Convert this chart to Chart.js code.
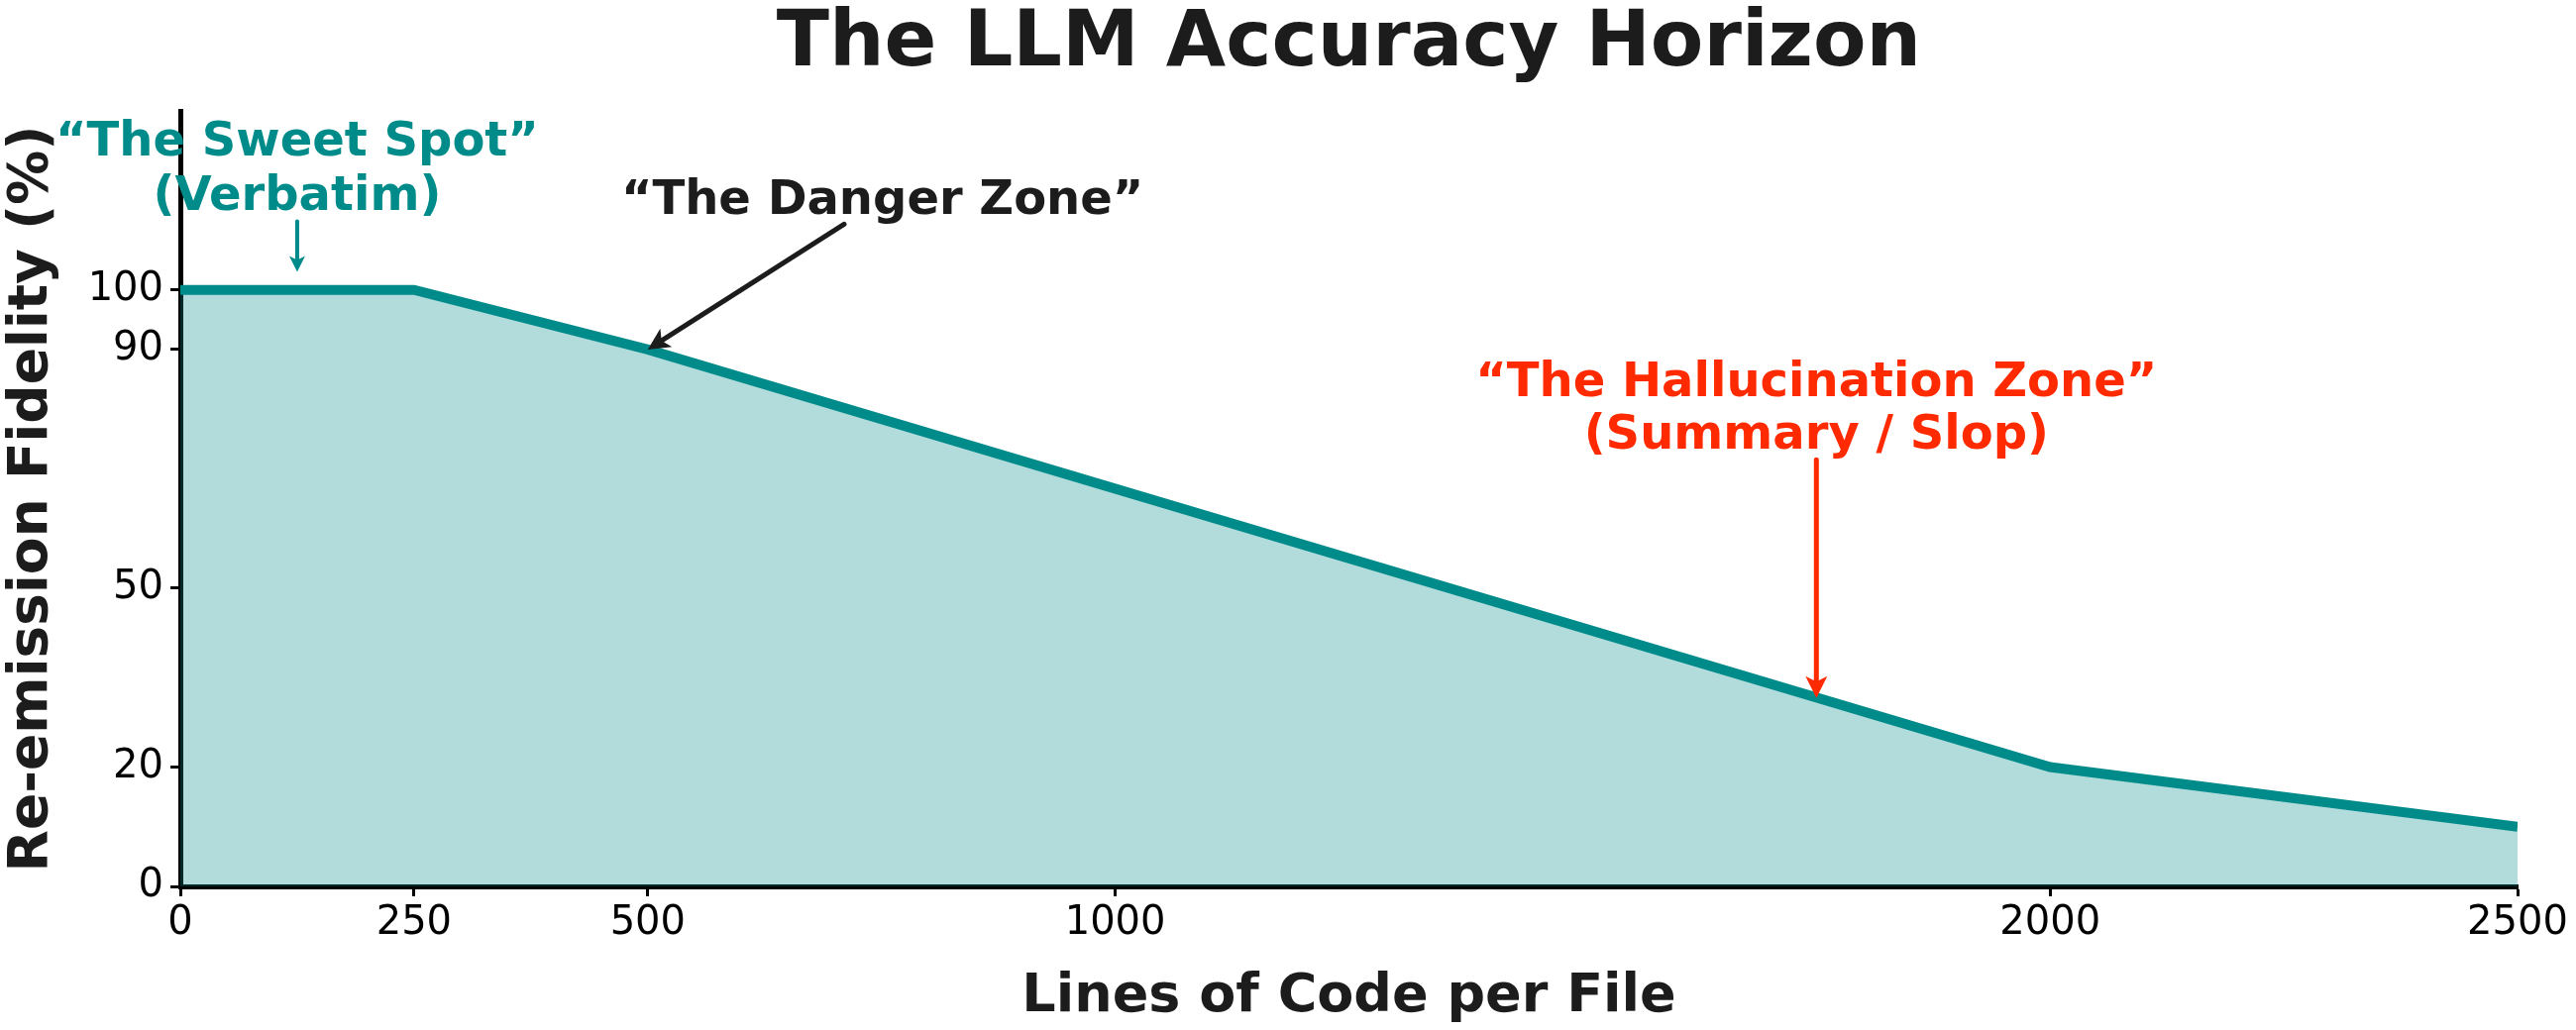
<!DOCTYPE html>
<html>
<head>
<meta charset="utf-8">
<script src="https://cdn.jsdelivr.net/npm/chart.js@4"></script>
<style>
  html, body { margin: 0; padding: 0; background: #fff; }
  #wrap { width: 2600px; height: 1040px; }
</style>
</head>
<body>
<div id="wrap"><canvas id="grafico" width="2600" height="1040"></canvas></div>
<script>
// valores
const linhas = [0, 250, 500, 2000, 2500];
const fidelidade = [100, 100, 90, 20, 10];
const ticksX = [0, 250, 500, 1000, 2000, 2500];
const ticksY = [0, 20, 50, 90, 100];

const TEAL = '#008b8b';
const RED = '#ff2a00';
const INK = '#1c1c1c';
const FONT = "'DejaVu Sans', sans-serif";

// anotacoes (texto + seta) ancoradas em coordenadas de dados
const notas = [
  { linhas: ['\u201cThe Sweet Spot\u201d', '(Verbatim)'], x: 125, y: 122.5, gap: 55, cor: TEAL,
    seta: { x0: 125, y0: 111.5, x1: 125, y1: 103, w: 4, head: 16 } },
  { linhas: ['\u201cThe Danger Zone\u201d'], x: 751, y: 112.8, gap: 0, cor: INK,
    seta: { x0: 710, y0: 111, x1: 500, y1: 90, w: 5, head: 22 } },
  { linhas: ['\u201cThe Hallucination Zone\u201d', '(Summary / Slop)'], x: 1750, y: 82.2, gap: 53, cor: RED,
    seta: { x0: 1750, y0: 71.5, x1: 1750, y1: 31.6, w: 5, head: 22 } }
];

function seta(ctx, x0, y0, x1, y1, cor, w, head) {
  const ang = Math.atan2(y1 - y0, x1 - x0);
  ctx.save();
  ctx.strokeStyle = cor;
  ctx.fillStyle = cor;
  ctx.lineWidth = w;
  ctx.lineCap = 'round';
  ctx.beginPath();
  ctx.moveTo(x0, y0);
  ctx.lineTo(x1 - Math.cos(ang) * head * 0.8, y1 - Math.sin(ang) * head * 0.8);
  ctx.stroke();
  ctx.beginPath();
  ctx.moveTo(x1, y1);
  ctx.lineTo(x1 - head * Math.cos(ang) + head * 0.5 * Math.sin(ang), y1 - head * Math.sin(ang) - head * 0.5 * Math.cos(ang));
  ctx.lineTo(x1 - head * 0.75 * Math.cos(ang), y1 - head * 0.75 * Math.sin(ang));
  ctx.lineTo(x1 - head * Math.cos(ang) - head * 0.5 * Math.sin(ang), y1 - head * Math.sin(ang) + head * 0.5 * Math.cos(ang));
  ctx.closePath();
  ctx.fill();
  ctx.restore();
}

const anotacoes = {
  id: 'anotacoes',
  afterDraw(chart) {
    const { ctx, scales: { x, y }, chartArea } = chart;
    ctx.save();
    // titulo
    ctx.font = 'bold 78px ' + FONT;
    ctx.fillStyle = INK;
    ctx.textAlign = 'center';
    ctx.textBaseline = 'alphabetic';
    ctx.fillText('The LLM Accuracy Horizon', (chartArea.left + chartArea.right) / 2, 66);

    ctx.font = 'bold 48px ' + FONT;
    notas.forEach(n => {
      ctx.fillStyle = n.cor;
      const px = x.getPixelForValue(n.x);
      const py = y.getPixelForValue(n.y);
      n.linhas.forEach((t, i) => ctx.fillText(t, px, py + i * n.gap));
      const s = n.seta;
      seta(ctx, x.getPixelForValue(s.x0), y.getPixelForValue(s.y0),
        x.getPixelForValue(s.x1), y.getPixelForValue(s.y1), n.cor, s.w, s.head);
    });
    ctx.restore();
  }
};

const ctx = document.getElementById('grafico').getContext('2d');

const grafico = new Chart(ctx, {
  type: 'line',
  data: {
    datasets: [{
      data: linhas.map((l, i) => ({ x: l, y: fidelidade[i] })),
      borderColor: TEAL,
      borderWidth: 10,
      borderJoinStyle: 'miter',
      borderCapStyle: 'butt',
      backgroundColor: 'rgba(0, 139, 139, 0.3)',
      fill: 'origin',
      pointRadius: 0,
      tension: 0
    }]
  },
  options: {
    responsive: false,
    animation: false,
    devicePixelRatio: 1,
    layout: { padding: { top: 112, right: 59, bottom: 0, left: 0 } },
    plugins: {
      legend: { display: false },
      tooltip: { enabled: false }
    },
    scales: {
      x: {
        type: 'linear',
        min: 0,
        max: 2500,
        afterBuildTicks: (s) => { s.ticks = ticksX.map(v => ({ value: v })); },
        afterFit: (s) => { s.height = 145; s.paddingLeft = 0; s.paddingRight = 0; },
        ticks: {
          color: '#000',
          font: { family: FONT, size: 40 },
          padding: 4,
          maxRotation: 0,
          autoSkip: false,
          callback: (v) => String(v)
        },
        grid: { display: true, drawOnChartArea: false, drawTicks: true, tickLength: 10, tickWidth: 3, tickColor: '#000' },
        border: { display: true, color: '#000', width: 5 },
        title: {
          display: true,
          text: 'Lines of Code per File',
          color: INK,
          font: { family: FONT, size: 54, weight: 'bold' },
          padding: { top: 0, bottom: 1 }
        }
      },
      y: {
        min: 0,
        max: 130,
        afterBuildTicks: (s) => { s.ticks = ticksY.map(v => ({ value: v })); },
        afterFit: (s) => { s.width = 182; s.paddingTop = 0; s.paddingBottom = 0; },
        ticks: {
          color: '#000',
          font: { family: FONT, size: 40 },
          padding: 7,
          autoSkip: false,
          callback: (v) => String(v)
        },
        grid: { display: true, drawOnChartArea: false, drawTicks: true, tickLength: 10, tickWidth: 3, tickColor: '#000' },
        border: { display: true, color: '#000', width: 5 },
        title: {
          display: true,
          text: 'Re-emission Fidelity (%)',
          color: INK,
          font: { family: FONT, size: 55, weight: 'bold' },
          padding: { top: 0, bottom: 0 }
        }
      }
    }
  },
  plugins: [anotacoes]
});
</script>
</body>
</html>
